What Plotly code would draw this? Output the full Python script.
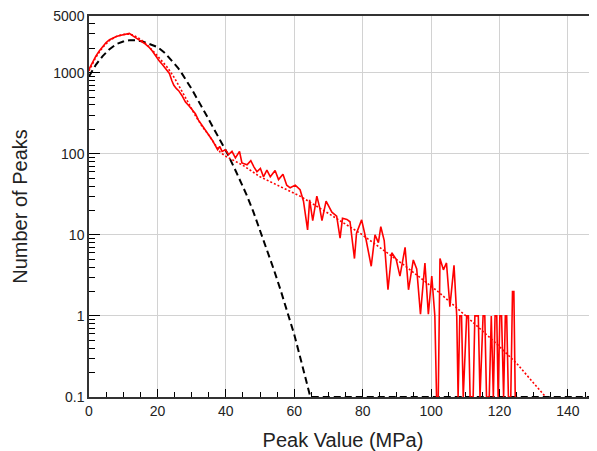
import numpy as np
import plotly.graph_objects as go

# ---- data ----
# measured peak histogram (red solid)
meas_x = [0, 1, 2, 3, 4, 5, 6, 7, 8, 9, 10, 11, 11.8, 12.5, 13.5, 14.5, 15.5, 16.5, 17.5, 18.5,
          19.5, 20.5, 21.5, 22.5, 23.5, 24.2, 24.8, 25.5, 26.2, 27.2, 28.2, 29.2, 30.1, 31.1, 32.0,
          33.0, 34.0, 35.0, 36.0, 37.0, 37.6, 38.2, 38.9, 39.9, 40.8, 41.8, 42.8, 44.0, 44.7, 46.2,
          47.3, 48.2, 49.1, 50.1, 51.0, 52.0, 53.0, 54.4, 55.4, 56.7, 57.8, 58.8, 60.3, 61.7, 62.7,
          63.9, 64.5, 65.4, 66.6, 67.4, 68.1, 69.3, 71.0, 72.4, 73.4, 74.1, 75.4, 76.3, 77.6, 78.2,
          79.7, 81.0, 82.5, 83.6, 84.6, 85.3, 86.3, 87.4, 88.5, 89.8, 90.9, 92.4, 93.4, 94.8, 95.8,
          96.9, 98.2, 99.2, 100.2, 101.1, 101.6, 102.1, 102.6, 103.6, 104.5, 105.5, 106.7, 107.5,
          107.9, 108.4, 108.9, 109.4, 110.4, 110.9, 111.4, 112.3, 112.8, 113.3, 113.8, 114.3, 115.2,
          115.7, 116.2, 117.0, 117.6, 118.2, 118.7, 119.2, 119.6, 120.1, 120.6, 121.2, 121.7, 122.1,
          122.6, 123.3, 123.8, 124.2, 124.6, 125.2, 148.5]
meas_y = [1100, 1350, 1600, 1850, 2100, 2350, 2550, 2700, 2800, 2880, 2950, 3000, 3050, 2900, 2700,
          2550, 2400, 2250, 2070, 1850, 1600, 1400, 1250, 1120, 980, 800, 700, 640, 600, 520, 434,
          390, 350, 312, 260, 228, 194, 170, 148, 125, 112, 123, 107, 112, 98, 107, 89, 107, 77, 73,
          82, 69, 60, 66, 52, 63, 52, 62, 48, 56, 41, 38, 41, 36, 26, 11.5, 27, 15, 30, 22, 15, 26,
          19, 17, 9.1, 16, 15.5, 14.5, 5.1, 10.5, 15.3, 8.7, 4.1, 10, 8, 12.6, 8.5, 2.1, 6.0, 5.0,
          3.1, 7.0, 2.1, 4.9, 3.8, 1.05, 4.5, 1.05, 3.1, 1.0, 0, 0, 5.1, 3.7, 4.5, 1.3, 4.2, 1.0,
          0, 1, 1, 0, 1, 1, 0, 0, 1, 1, 1, 0, 1, 1, 0, 0, 1, 0, 1, 1, 0, 1, 1, 0, 1, 1, 0, 0, 2,
          2, 0, 0]

# fitted distribution (red dotted)
fit_x = [0, 2, 4, 6, 8, 10, 11.5, 13, 15, 17, 19, 21, 23, 25, 27, 29, 31, 33, 35, 37, 38.4, 40,
         42, 45, 50, 55, 61.7, 69, 79.2, 91.9, 102, 110.4, 119, 125, 130, 133.5]
fit_y = [1050, 1550, 2050, 2500, 2800, 2950, 3000, 2900, 2600, 2200, 1800, 1450, 1150, 860, 620,
         430, 300, 220, 170, 125, 104, 93, 84, 72, 52, 41, 30, 19.5, 10.5, 4.3, 2.0, 0.98, 0.46,
         0.26, 0.15, 0.1]

# theoretical distribution (black dashed)
theo_x = [0, 2, 4, 6, 8, 10, 12, 14, 16, 18, 20, 22, 24, 26, 27, 30, 34, 37, 40.5, 43, 46, 48,
          50.5, 52, 54, 56, 58.4, 60, 62, 64.7, 66, 148.5]
theo_y = [900, 1250, 1600, 1950, 2250, 2420, 2520, 2500, 2400, 2250, 2070, 1780, 1445, 1150, 1000,
          630, 316, 186, 100, 60, 31.6, 19.5, 10, 6.6, 3.76, 2.09, 1.0, 0.59, 0.28, 0.1, 0, 0]

x_ticks = [0, 20, 40, 60, 80, 100, 120, 140]
y_ticks = [0.1, 1, 10, 100, 1000, 5000]
y_tick_text = ["0.1", "1", "10", "100", "1000", "5000"]

FLOOR = 0.1  # zero counts are drawn on the bottom of the log axis


def floored(v):
    return np.clip(np.array(v, dtype=float), FLOOR, None)


fig = go.Figure()
fig.add_trace(go.Scatter(x=theo_x, y=floored(theo_y), mode="lines",
                         line=dict(color="black", width=2, dash="7px,4px")))
fig.add_trace(go.Scatter(x=fit_x, y=floored(fit_y), mode="lines",
                         line=dict(color="#ff0000", width=1.6, dash="2px,2px")))
fig.add_trace(go.Scatter(x=meas_x, y=floored(meas_y), mode="lines",
                         line=dict(color="#ff0000", width=1.6)))

minor_y = [m * 10 ** e for e in range(-1, 4) for m in range(2, 10) if m * 10 ** e < 5000]

font = "Liberation Sans, Arial, sans-serif"
# the page body has an 8px margin, so the figure is sized to end at the window edges
fig.update_layout(
    width=589, height=443,
    margin=dict(l=81, r=0, t=8, b=54),
    paper_bgcolor="white", plot_bgcolor="white",
    showlegend=False,
    font=dict(family=font, size=14, color="#222"),
    xaxis=dict(
        range=[0, 148.5], tickmode="array", tickvals=x_ticks,
        ticks="inside", ticklen=8, tickcolor="black", tickwidth=1,
        showgrid=True, gridcolor="#d2d2d2", gridwidth=1,
        showline=True, linecolor="#333", linewidth=1.5, mirror=True,
        zeroline=False, automargin=False, ticklabeloverflow="allow",
        minor=dict(dtick=5, ticks="inside", ticklen=5, tickcolor="black", showgrid=False),
        title=dict(text="Peak Value (MPa)", font=dict(size=20, color="#222"), standoff=17),
        tickfont=dict(size=14),
    ),
    yaxis=dict(
        type="log", range=[-1, np.log10(5000)],
        tickmode="array", tickvals=y_ticks, ticktext=y_tick_text,
        ticks="inside", ticklen=11, tickcolor="black", tickwidth=1,
        showgrid=True, gridcolor="#d2d2d2", gridwidth=1,
        showline=True, linecolor="#333", linewidth=1.5,
        zeroline=False, automargin=False, ticklabeloverflow="allow",
        minor=dict(tickmode="array", tickvals=minor_y, ticks="inside", ticklen=6,
                   tickcolor="black", showgrid=False),
        title=dict(text="Number of Peaks", font=dict(size=20, color="#222"), standoff=20),
        tickfont=dict(size=14),
    ),
)

fig.write_html("out.html")
